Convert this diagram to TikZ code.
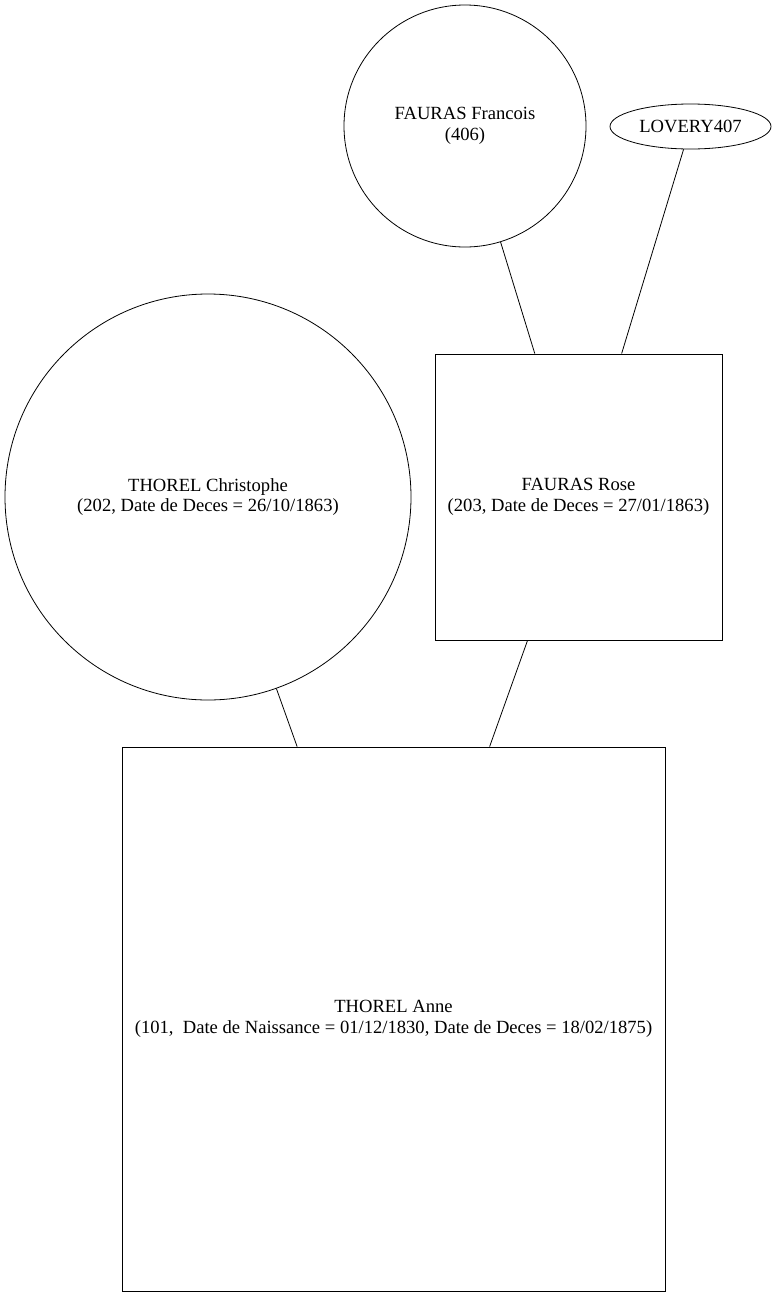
\documentclass[tikz,border=0pt]{standalone}
\usepackage{fontspec}
\setmainfont{Liberation Serif}
\usetikzlibrary{shapes.geometric}

\begin{document}
\begin{tikzpicture}[x=1pt,y=-1pt,line width=0.8pt,
    every node/.style={draw,align=center,inner sep=0pt,font=\fontsize{18.6}{20.5}\selectfont},
    ancetre/.style={circle},
    inconnu/.style={ellipse},
    personne/.style={rectangle}]

  \useasboundingbox (0,0) rectangle (777,1296);

  \node[ancetre,minimum size=242pt]                        (F406) at (465,126)    {FAURAS Francois\\(406)};
  \node[inconnu,minimum width=161pt,minimum height=45pt]   (L407) at (690.5,126.5) {LOVERY407};
  \node[ancetre,minimum size=406pt]                        (C202) at (208,497)    {THOREL Christophe\\(202, Date de Deces = 26/10/1863)};
  \node[personne,minimum width=287pt,minimum height=286pt] (R203) at (578.5,497)  {FAURAS Rose\\(203, Date de Deces = 27/01/1863)};
  \node[personne,minimum width=543pt,minimum height=544pt] (A101) at (393.5,1019) {THOREL Anne\\(101,\ \ Date de Naissance = 01/12/1830, Date de Deces = 18/02/1875)};

  \path (F406) edge (R203)
        (L407) edge (R203)
        (C202) edge (A101)
        (R203) edge (A101);
\end{tikzpicture}
\end{document}
